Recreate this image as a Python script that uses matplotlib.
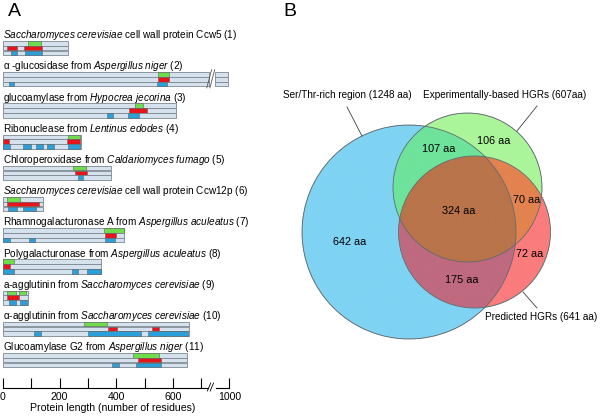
import numpy as np
import matplotlib
matplotlib.use("Agg")
import matplotlib.pyplot as plt
from matplotlib.patches import Circle

plt.rcParams['font.family'] = ['Liberation Sans', 'DejaVu Sans']
plt.rcParams['mathtext.fontset'] = 'custom'
plt.rcParams['mathtext.rm'] = 'Liberation Sans'
plt.rcParams['mathtext.it'] = 'Liberation Sans:italic'

# ---- panel A data (residue ranges) ----
titles = [
    r"$\mathit{Saccharomyces\ cerevisiae}$ cell wall protein Ccw5 (1)",
    r"α -glucosidase from $\mathit{Aspergillus\ niger}$ (2)",
    r"glucoamylase from $\mathit{Hypocrea\ jecorina}$ (3)",
    r"Ribonuclease from $\mathit{Lentinus\ edodes}$ (4)",
    r"Chloroperoxidase from $\mathit{Caldariomyces\ fumago}$ (5)",
    r"$\mathit{Saccharomyces\ cerevisiae}$ cell wall protein Ccw12p (6)",
    r"Rhamnogalacturonase A from $\mathit{Aspergillus\ aculeatus}$ (7)",
    r"Polygalacturonase from $\mathit{Aspergillus\ aculeatus}$ (8)",
    r"a-agglutinin from $\mathit{Saccharomyces\ cerevisiae}$ (9)",
    r"α-agglutinin from $\mathit{Saccharomyces\ cerevisiae}$ (10)",
    r"Glucoamylase G2 from $\mathit{Aspergillus\ niger}$ (11)",
]
lengths = [230, 985, 610, 276, 382, 141, 428, 346, 89, 658, 650]
green = [[(90, 135)], [(547, 587)], [(466, 495)], [(230, 272)], [(248, 293)],
         [(14, 60)], [(358, 428)], [(0, 39)], [(15, 46), (57, 81)],
         [(287, 367)], [(460, 551)]]
red = [[(15, 50), (75, 138)], [(547, 587)], [(446, 509)], [(0, 22), (226, 272)],
       [(254, 297)], [(14, 127)], [(360, 399)], [(0, 25)], [(15, 57)],
       [(371, 403), (527, 551)], [(477, 558)]]
blue = [[(30, 50), (78, 138)], [(22, 39), (545, 580)], [(368, 389), (443, 481)],
        [(0, 25), (72, 98), (117, 141), (156, 180), (230, 272)], [(265, 283)],
        [(18, 50), (70, 117)], [(0, 25), (92, 113), (360, 396)],
        [(0, 39), (243, 265), (297, 346)], [(22, 46), (60, 84)],
        [(111, 134), (301, 487), (512, 654)], [(385, 410), (470, 558)]]
tick_values = [0, 100, 200, 300, 400, 500, 600, 700, 1000]
tick_labels = ['0', '', '200', '', '400', '', '600', '', '1000']

# ---- panel B data ----
venn_names = ["Ser/Thr-rich region (1248 aa)", "Experimentally-based HGRs (607aa)",
              "Predicted HGRs (641 aa)"]
venn_counts = {"s": 642, "se": 107, "e": 106, "ep": 70, "sep": 324, "p": 72, "sp": 175}


def fx(r):
    # axis is broken after 700 residues
    r = np.asarray(r, dtype=float)
    return np.where(r <= 700, r, 700 + (r - 700) / 3.0)


fig = plt.figure(figsize=(6.0, 4.17), dpi=100)

# panel A axes, y in pixel-like rows
axA = fig.add_axes([0, 1 - 388 / 417, 252 / 600, 388 / 417])
axA.set_xlim(-3 / 0.283, 249 / 0.283)
axA.set_ylim(388, 0)
for s in ['top', 'left', 'right']:
    axA.spines[s].set_visible(False)
axA.set_yticks([])

row_step = 31.2
strip_h = 4.6
strip_pitch = 4.8
strip_face = '#d5e1ed'
strip_edge = '#7d8790'
brk_lo, brk_hi = 728, 748

for i in range(len(titles)):
    top = 41 + i * row_step
    axA.text(0, top - 2.8, titles[i], fontsize=7.2, va='baseline', ha='left')
    end = float(fx(lengths[i]))
    if lengths[i] > 700:
        ranges = [(0, brk_lo), (brk_hi, end - brk_hi)]
    else:
        ranges = [(0, end)]
    for k, feats in enumerate([green[i], red[i], blue[i]]):
        y0 = top + k * strip_pitch
        axA.broken_barh(ranges, (y0, strip_h), facecolor=strip_face,
                        edgecolor=strip_edge, linewidth=0.6)
        fr = [(float(fx(a)), float(fx(b) - fx(a))) for a, b in feats]
        col = ['#6fdc4c', '#e8131b', '#2b9fd9'][k]
        axA.broken_barh(fr, (y0, strip_h), facecolor=col,
                        edgecolor='#606060', linewidth=0.4)
    if lengths[i] > 700:
        yb = top + 2 * strip_pitch + strip_h + 1.5
        for dx in (0, 11):
            axA.plot([brk_lo - 8 + dx, brk_lo + 9 + dx], [yb, top - 2.5],
                     color='#555555', lw=0.6)

# bottom axis with break
axA.spines['bottom'].set_bounds(0, 725)
axA.spines['bottom'].set_linewidth(0.8)
axA.plot([752, 800], [388, 388], color='black', lw=0.8, clip_on=False)
for dx in (0, 10):
    axA.plot([722 + dx, 734 + dx], [391, 383], color='black', lw=0.6, clip_on=False)
axA.set_xticks(fx(tick_values))
axA.set_xticklabels(tick_labels, fontsize=7.6)
axA.tick_params(axis='x', direction='in', length=7, width=0.8, pad=3)
axA.set_xlabel("Protein length (number of residues)", fontsize=7.6)
axA.xaxis.set_label_coords(113 / 252, -0.038)

# panel B
axB = fig.add_axes([270 / 600, 0, 330 / 600, 1])
axB.set_xlim(270, 600)
axB.set_ylim(417, 0)
axB.axis('off')

cs = (409, 232, 107)
ce = (467.5, 187.5, 74.5)
cp = (474.5, 232, 76)

xs = np.linspace(298, 556, 1040)
ys = np.linspace(108, 345, 950)
X, Y = np.meshgrid(xs, ys)
inS = (X - cs[0]) ** 2 + (Y - cs[1]) ** 2 <= cs[2] ** 2
inE = (X - ce[0]) ** 2 + (Y - ce[1]) ** 2 <= ce[2] ** 2
inP = (X - cp[0]) ** 2 + (Y - cp[1]) ** 2 <= cp[2] ** 2

region_colors = {
    "s": '#7fd3f3', "e": '#abf59a', "p": '#fb7c7c', "se": '#6ee39b',
    "sp": '#bf6a80', "ep": '#e3834f', "sep": '#b9744a',
}
img = np.zeros(X.shape + (4,))
masks = {
    "s": inS & ~inE & ~inP, "e": inE & ~inS & ~inP, "p": inP & ~inS & ~inE,
    "se": inS & inE & ~inP, "sp": inS & inP & ~inE, "ep": inE & inP & ~inS,
    "sep": inS & inE & inP,
}
for key, m in masks.items():
    img[m] = matplotlib.colors.to_rgba(region_colors[key])
axB.imshow(img, extent=(xs[0], xs[-1], ys[-1], ys[0]), origin='upper',
           interpolation='antialiased', aspect='auto', zorder=1)

for c in (cs, ce, cp):
    axB.add_patch(Circle((c[0], c[1]), c[2], fill=False, edgecolor='#5f6b70',
                         lw=0.6, zorder=2))

label_pos = {"s": (350, 242), "se": (439, 149), "e": (494, 141), "ep": (527, 200),
             "sep": (459, 211), "p": (530, 254), "sp": (462, 280)}
for key, (x, y) in label_pos.items():
    axB.text(x, y, f"{venn_counts[key]} aa", fontsize=7.8, ha='center', va='center',
             zorder=3)

axB.text(283, 95, venn_names[0], fontsize=7.2, ha='left', va='center')
axB.plot([347, 362], [107, 136], color='#404040', lw=0.6)
axB.text(423, 95, venn_names[1], fontsize=7.2, ha='left', va='center')
axB.plot([537, 517], [106, 131], color='#404040', lw=0.6)
axB.text(485, 317, venn_names[2], fontsize=7.2, ha='left', va='center')
axB.plot([537, 523], [308, 292], color='#404040', lw=0.6)

fig.text(8 / 600, 1 - 11 / 417, "A", fontsize=14, va='center', ha='left')
fig.text(283 / 600, 1 - 11 / 417, "B", fontsize=14, va='center', ha='left')

fig.savefig("out.png", dpi=100)
